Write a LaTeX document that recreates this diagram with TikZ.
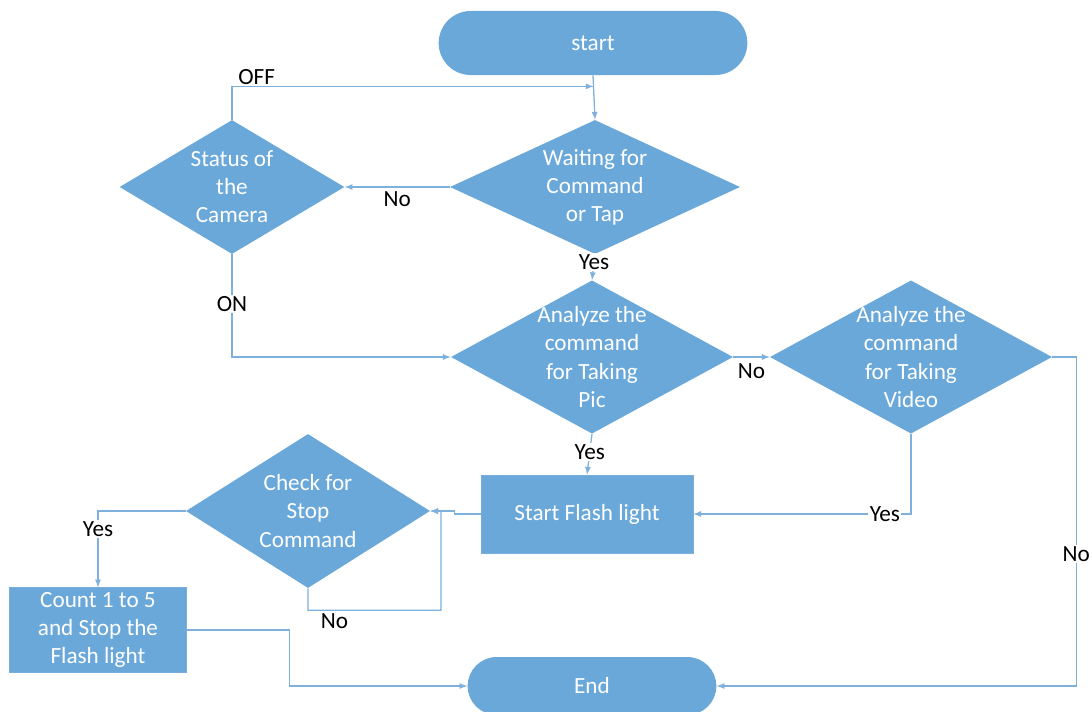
\documentclass[tikz,border=0pt]{standalone}
\usepackage{fontspec}
\setmainfont{Carlito}
\usetikzlibrary{calc,shapes.geometric,shapes.misc}
\definecolor{boxblue}{RGB}{106,168,218}
\definecolor{lineblue}{RGB}{125,176,220}
\tikzset{
	term/.style 2 args={rounded rectangle, fill=boxblue, minimum width=#1, minimum height=#2, text=white, font=\fontsize{16.5}{20}\selectfont},
	proc/.style 2 args={rectangle, fill=boxblue, draw=lineblue!80!boxblue, minimum width=#1, minimum height=#2, text=white, align=center, font=\fontsize{16.5}{20}\selectfont},
	dec/.style 2 args={diamond, fill=boxblue, inner sep=0pt, minimum width=#1, minimum height=#2},
	txt/.style={text=white, align=center, font=\fontsize{16.5}{20}\selectfont},
	flow/.style={draw=lineblue, line width=0.9pt, -latex},
	lbl/.style={fill=white, inner sep=1pt, text=black, font=\fontsize{16.5}{20}\selectfont}
}

\begin{document}
\begin{tikzpicture}[x=0.025cm, y=-0.025cm]
		%%%%% START %%%%%
		\useasboundingbox (0, 0) rectangle (1092, 711);
		
		\node[term={7.95cm}{1.6cm}] (start) at (593, 43) {start};
		\node[term={6.45cm}{1.45cm}] (end) at (592, 686) {End};
		
		\node[dec={7.25cm}{3.35cm}, label={[txt]center:Waiting for\\Command\\or Tap}] (wait) at (595, 187) {};
		\node[dec={5.62cm}{3.35cm}, label={[txt]center:Status of\\the\\Camera}] (status) at (232, 187) {};
		\node[dec={7.05cm}{3.83cm}, label={[txt]center:Analyze the\\command\\for Taking\\Pic}] (pic) at (592, 357) {};
		\node[dec={7.05cm}{3.83cm}, label={[txt]center:Analyze the\\command\\for Taking\\Video}] (video) at (911, 357) {};
		\node[dec={6.1cm}{3.85cm}, label={[txt]center:Check for\\Stop\\Command}] (check) at (308, 511) {};
		
		\node[proc={5.3cm}{1.95cm}] (flash) at (587, 514) {Start Flash light};
		\node[proc={4.42cm}{2.1cm}] (count) at (98, 630) {Count 1 to 5\\and Stop the\\Flash light};
		
		\draw[flow] (start.south) -- (wait.north);
		\draw[flow] (status.north) |- ($(start.south)!0.25!(wait.north)$) node[pos=0.5, lbl, fill=none, anchor=south west, xshift=3pt] {OFF};
		\draw[flow] (wait.west) -- (status.east) node[midway, lbl, below=2pt] {No};
		\draw[flow] (wait.south) -- (pic.north) node[pos=0.3, lbl] {Yes};
		\draw[flow] (status.south) |- (pic.west) node[pos=0.24, lbl] {ON};
		\draw[flow] (pic.east) -- (video.west) node[midway, lbl, below=3pt] {No};
		\draw[flow] (pic.south) -- (flash.north) node[pos=0.45, lbl] {Yes};
		\draw[flow] (video.south) |- (flash.east) node[pos=0.56, lbl] {Yes};
		\draw[flow] (video.east) -- ++(24, 0) |- (end.east) node[pos=0.3, lbl] {No};
		
		\draw[flow] (flash.west) -- ++(-26, 0) |- (check.east);
		\draw[flow] (check.south) -- ++(0, 22) -| ++(133, -99) node[pos=0.1, lbl, fill=none, below=1pt] {No} -- (check.east);
		\draw[flow] (check.west) -| (count.north) node[pos=0.62, lbl] {Yes};
		\draw[flow] (count.east) -- ++(103, 0) |- (end.west);
		
		%%%%% END %%%%%
	\end{tikzpicture}
\end{document}
